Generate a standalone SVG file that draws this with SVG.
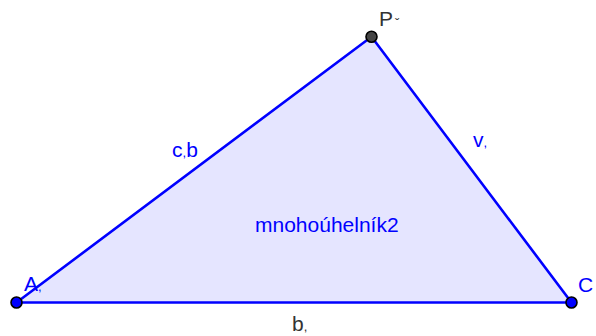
<svg xmlns="http://www.w3.org/2000/svg" width="596" height="336" viewBox="0 0 596 336">
<style>
text{font-family:"Liberation Sans",Arial,sans-serif;font-size:21px}
.bl{fill:#0000ff}
.gr{fill:#333333}
.sm{font-size:13px}
.edge{stroke:#0000ff;stroke-width:2.6;fill:none;stroke-linecap:round}
.pt{stroke:#000;stroke-width:1.6}
</style>
<rect width="596" height="336" fill="#ffffff"/>
<g id="polygon">
<polygon points="16.5,302.5 371.5,36.8 571.5,302.5" fill="#e5e5ff"/>
<text class="bl" x="255" y="232">mnohoúhelník2</text>
</g>
<g id="connectors">
<line class="edge" x1="16.5" y1="302.5" x2="371.5" y2="36.8"/>
<line class="edge" x1="371.5" y1="36.8" x2="571.5" y2="302.5"/>
<line class="edge" x1="16.5" y1="302.5" x2="571.5" y2="302.5"/>
<text class="bl" x="172" y="157">c<tspan class="sm">,</tspan>b</text>
<text class="bl" x="473" y="147">v<tspan class="sm">,</tspan></text>
<text class="gr" x="292" y="331">b<tspan class="sm">,</tspan></text>
</g>
<g id="node-P">
<circle class="pt" cx="371.5" cy="36.8" r="5.5" fill="#444444"/>
<text class="gr" x="379" y="26">P<tspan class="sm" dx="2" dy="2">ˇ</tspan></text>
</g>
<g id="node-A">
<circle class="pt" cx="16.5" cy="302.5" r="5.5" fill="#0000ff"/>
<text class="bl" x="24" y="291">A<tspan class="sm">,</tspan></text>
</g>
<g id="node-C">
<circle class="pt" cx="571.5" cy="302.5" r="5.5" fill="#0000ff"/>
<text class="bl" x="578" y="292">C</text>
</g>
</svg>
